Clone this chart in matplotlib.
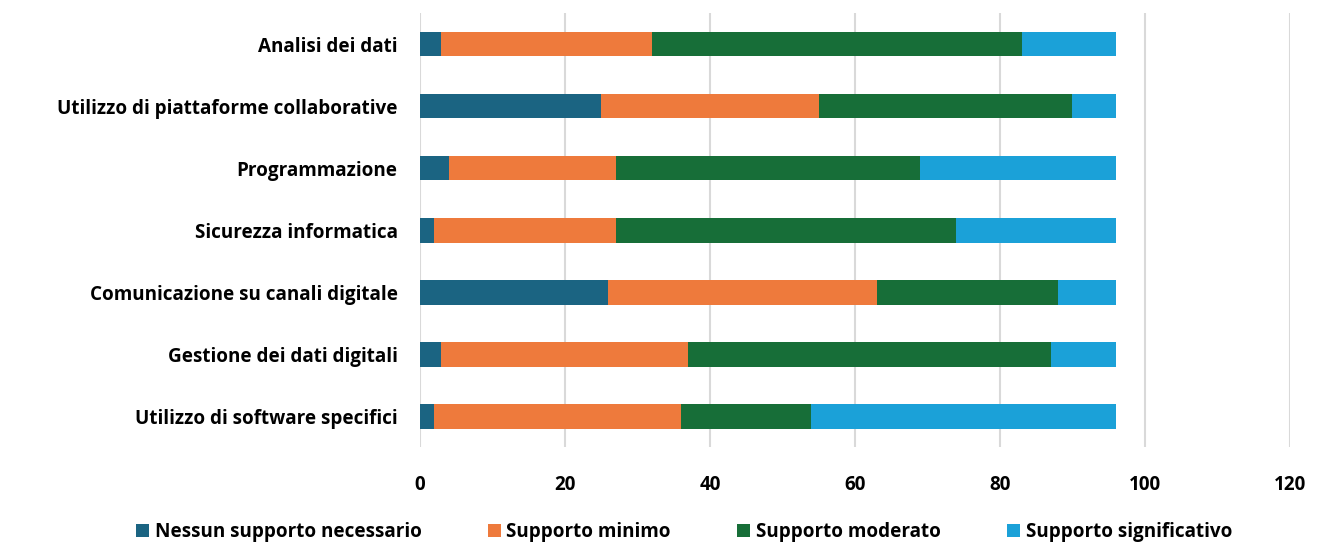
import numpy as np
import matplotlib.pyplot as plt

plt.rcParams['font.family'] = ['Open Sans', 'DejaVu Sans']

# categorie (dall'alto verso il basso)
categorie = ['Analisi dei dati',
             'Utilizzo di piattaforme collaborative',
             'Programmazione',
             'Sicurezza informatica',
             'Comunicazione su canali digitale',
             'Gestione dei dati digitali',
             'Utilizzo di software specifici']

nessun_supporto = [3, 25, 4, 2, 26, 3, 2]
supporto_minimo = [29, 30, 23, 25, 37, 34, 34]
supporto_moderato = [51, 35, 42, 47, 25, 50, 18]
supporto_significativo = [13, 6, 27, 22, 8, 9, 42]

serie = ['Nessun supporto necessario', 'Supporto minimo',
         'Supporto moderato', 'Supporto significativo']
colori = ['#1B6482', '#EE7A3C', '#176E38', '#1BA1D8']

valori = np.array([nessun_supporto, supporto_minimo,
                   supporto_moderato, supporto_significativo], dtype=float)

fig = plt.figure(figsize=(13.41, 5.44), dpi=100)
ax = fig.add_axes([0.313, 0.178, 0.649, 0.798])

y = np.arange(len(categorie))
left = np.zeros(len(categorie))
for nome, col, v in zip(serie, colori, valori):
    ax.barh(y, v, left=left, height=0.4, color=col, label=nome, zorder=3)
    left += v

ax.set_xlim(0, 120)
ax.set_ylim(len(categorie) - 0.5, -0.5)
ax.set_xticks(np.arange(0, 121, 20))
ax.set_yticks(y)
ax.set_yticklabels(categorie, fontsize=13.6, fontweight='bold')
for lab in ax.get_xticklabels():
    lab.set_fontsize(13.6)
    lab.set_fontweight('bold')
ax.tick_params(length=0, pad=20, axis='x')
ax.tick_params(length=0, pad=16, axis='y')
ax.grid(axis='x', color='#D9D9D9', linewidth=1.5, zorder=0)
for s in ax.spines.values():
    s.set_visible(False)

leg = fig.legend(loc='center', bbox_to_anchor=(0.51, 0.022), ncol=4,
                 frameon=False, fontsize=13.6, handlelength=0.7,
                 handleheight=0.7, handletextpad=0.3, columnspacing=3.5)
for t in leg.get_texts():
    t.set_fontweight('bold')

fig.savefig('out.png', dpi=100)
